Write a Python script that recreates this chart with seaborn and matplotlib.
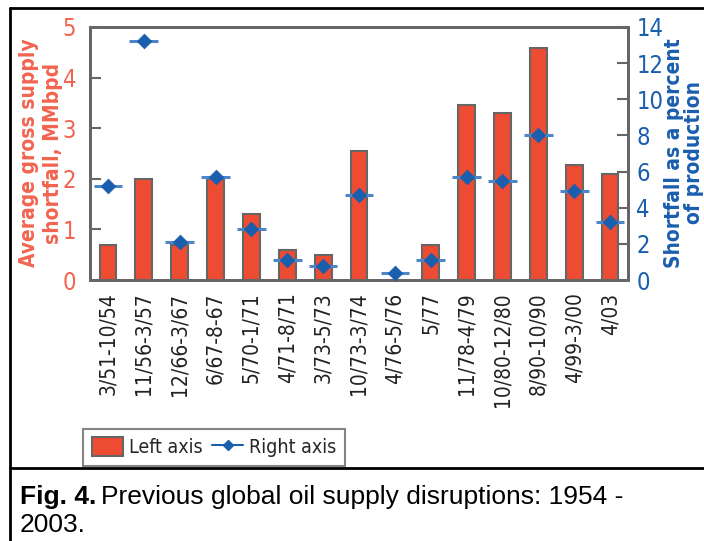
import numpy as np
import pandas as pd
import seaborn as sns
import matplotlib
matplotlib.use("Agg")
import matplotlib.pyplot as plt
from matplotlib import font_manager
from matplotlib.patches import Patch
from matplotlib.lines import Line2D

periods = ["3/51-10/54", "11/56-3/57", "12/66-3/67", "6/67-8-67", "5/70-1/71",
           "4/71-8/71", "3/73-5/73", "10/73-3/74", "4/76-5/76", "5/77",
           "11/78-4/79", "10/80-12/80", "8/90-10/90", "4/99-3/00", "4/03"]
shortfall_mmbpd = [0.7, 2.0, 0.7, 2.0, 1.3, 0.6, 0.5, 2.55, 0.0, 0.7,
                   3.45, 3.3, 4.58, 2.28, 2.1]
shortfall_pct = [5.2, 13.2, 2.1, 5.7, 2.8, 1.1, 0.8, 4.7, 0.4, 1.1,
                 5.7, 5.5, 8.0, 4.9, 3.2]

RED = "#ee4b33"
SALMON = "#f26450"
BLUE = "#1a5eae"
LBLUE = "#4f86c8"
GRAY = "#666666"

sns.set_style("white")
names = {f.name for f in font_manager.fontManager.ttflist}
narrow = "Liberation Sans Narrow" if "Liberation Sans Narrow" in names else "DejaVu Sans"
plt.rcParams["font.family"] = [narrow, "DejaVu Sans"]
plt.rcParams["font.stretch"] = "condensed"

df = pd.DataFrame({"period": periods, "mmbpd": shortfall_mmbpd, "pct": shortfall_pct})

fig = plt.figure(figsize=(7.04, 5.41), dpi=100)
ax = fig.add_axes([90 / 704, 1 - 280 / 541, 538 / 704, 253 / 541])
ax2 = ax.twinx()

sns.barplot(data=df, x="period", y="mmbpd", ax=ax, color=RED, width=0.47,
            edgecolor=GRAY, linewidth=1.5, saturation=1)
x = np.arange(len(periods))
ax2.errorbar(x, df["pct"], xerr=0.4, fmt="none", ecolor=LBLUE, elinewidth=2.2)
sns.scatterplot(x=x, y=df["pct"], ax=ax2, marker="D", s=55, color=BLUE,
                edgecolor=BLUE, zorder=5)

ax.set_xlim(-0.5, len(periods) - 0.5)
ax.set_ylim(0, 5)
ax2.set_ylim(0, 14)
ax.set_yticks(range(6))
ax2.set_yticks(range(0, 15, 2))
ax.set_xlabel("")
ax.set_ylabel("")
ax2.set_ylabel("")
ax.set_xticks(x)
ax.set_xticklabels(periods, rotation=90, fontsize=15, color="#222222")
ax.set_xticks(x[:-1] + 0.5, minor=True)
ax.tick_params(axis="x", which="major", length=0, pad=9)
ax.tick_params(axis="x", which="minor", direction="in", length=8, width=1.5, color="#999999")
ax.tick_params(axis="y", direction="in", length=8, width=1.5, color=GRAY,
               labelsize=17, labelcolor=SALMON, pad=10)
ax2.tick_params(axis="y", direction="in", length=8, width=1.5, color=GRAY,
                labelsize=17, labelcolor=BLUE, pad=6)
for a in (ax, ax2):
    for s in a.spines.values():
        s.set_color(GRAY)
        s.set_linewidth(2)

fig.text(41 / 704, 1 - 153 / 541, "Average gross supply\nshortfall, MMbpd",
         rotation=90, ha="center", va="center", multialignment="center",
         color=SALMON, fontsize=15, fontweight="bold", linespacing=1.2)
fig.text(684 / 704, 1 - 153 / 541, "Shortfall as a percent\nof production",
         rotation=90, ha="center", va="center", multialignment="center",
         color=BLUE, fontsize=15, fontweight="bold", linespacing=1.05)

handles = [Patch(facecolor=RED, edgecolor=GRAY, linewidth=1.5),
           Line2D([0], [0], color=BLUE, marker="D", markersize=5, linewidth=1.5)]
leg = fig.legend(handles, ["Left axis", "Right axis"], loc="lower left",
                 bbox_to_anchor=(83 / 704, 1 - 466 / 541), ncol=2, fontsize=14,
                 frameon=True, fancybox=False, handlelength=1.6, handleheight=1.1,
                 handletextpad=0.3, columnspacing=0.5, borderpad=0.45,
                 borderaxespad=0)
leg.get_frame().set_edgecolor(GRAY)
leg.get_frame().set_linewidth(1.5)

# figure frame
for xs, ys in [((10, 704), (8, 8)), ((10, 10), (8, 541)), ((10, 704), (468, 468))]:
    fig.add_artist(Line2D([v / 704 for v in xs], [1 - v / 541 for v in ys],
                          color="black", linewidth=2))

cap_kw = dict(fontsize=19, family=["Liberation Sans", "DejaVu Sans"], stretch="normal",
              va="center", color="black")
t1 = fig.text(20 / 704, 1 - 497 / 541, "Fig. 4.", fontweight="bold", **cap_kw)
fig.canvas.draw()
bb = t1.get_window_extent()
fig.text((bb.x1 + 5) / 704, 1 - 497 / 541,
         "Previous global oil supply disruptions: 1954 -", **cap_kw)
fig.text(20 / 704, 1 - 525 / 541, "2003.", **cap_kw)

fig.savefig("out.png", dpi=100)
